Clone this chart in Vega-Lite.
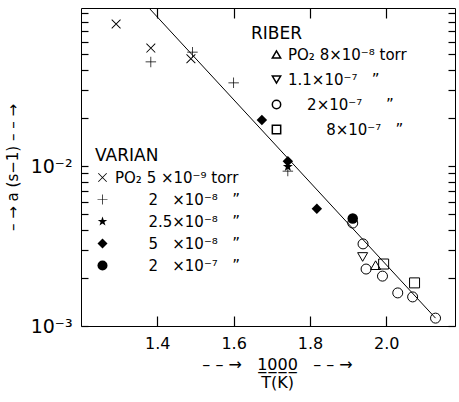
{
  "$schema": "https://vega.github.io/schema/vega-lite/v6.json",
  "autosize": "none",
  "width": 374,
  "height": 318,
  "padding": {"left": 81, "top": 8, "right": 4, "bottom": 76},
  "background": "white",
  "config": {
    "view": {"stroke": "black", "strokeWidth": 1},
    "font": "DejaVu Sans",
    "axis": {"grid": false, "domain": false, "tickColor": "#000000", "tickWidth": 1.2, "tickOpacity": 1, "labelColor": "black", "titleColor": "black", "labelFont": "DejaVu Sans", "titleFont": "DejaVu Sans", "titleFontWeight": "normal", "zindex": 2},
    "legend": {"titleFont": "DejaVu Sans", "labelFont": "DejaVu Sans", "titleFontWeight": "normal", "titleColor": "black", "labelColor": "black", "labelLimit": 300}
  },
  "datasets": {
    "fit": [
      {"inverse_T": 1.3806, "a": 0.0958},
      {"inverse_T": 2.129, "a": 0.00112}
    ],
    "varian": [
      {"inverse_T": 1.292, "a": 0.0772, "series": "PO₂ 5 ×10⁻⁹ torr"},
      {"inverse_T": 1.383, "a": 0.0546, "series": "PO₂ 5 ×10⁻⁹ torr"},
      {"inverse_T": 1.488, "a": 0.0468, "series": "PO₂ 5 ×10⁻⁹ torr"},
      {"inverse_T": 1.383, "a": 0.0447, "series": "\u200B\u2007\u2007\u2007\u00A02\u2007 ×10⁻⁸\u2007 ”"},
      {"inverse_T": 1.492, "a": 0.0515, "series": "\u200B\u2007\u2007\u2007\u00A02\u2007 ×10⁻⁸\u2007 ”"},
      {"inverse_T": 1.600, "a": 0.0331, "series": "\u200B\u2007\u2007\u2007\u00A02\u2007 ×10⁻⁸\u2007 ”"},
      {"inverse_T": 1.742, "a": 0.0093, "series": "\u200B\u2007\u2007\u2007\u00A02\u2007 ×10⁻⁸\u2007 ”"},
      {"inverse_T": 1.742, "a": 0.0099, "series": "\u200B\u2007\u2007\u2007\u00A02.5×10⁻⁸\u2007 ”"},
      {"inverse_T": 1.674, "a": 0.0194, "series": "\u200B\u2007\u2007\u2007\u00A05\u2007 ×10⁻⁸\u2007 ”"},
      {"inverse_T": 1.742, "a": 0.0107, "series": "\u200B\u2007\u2007\u2007\u00A05\u2007 ×10⁻⁸\u2007 ”"},
      {"inverse_T": 1.818, "a": 0.0054, "series": "\u200B\u2007\u2007\u2007\u00A05\u2007 ×10⁻⁸\u2007 ”"},
      {"inverse_T": 1.912, "a": 0.0047, "series": "\u200B\u2007\u2007\u2007\u00A02\u2007 ×10⁻⁷\u2007 ”"}
    ],
    "riber": [
      {"inverse_T": 1.972, "a": 0.0024, "series": "PO₂ 8×10⁻⁸ torr"},
      {"inverse_T": 1.938, "a": 0.0027, "series": "1.1×10⁻⁷\u2007 ”"},
      {"inverse_T": 1.912, "a": 0.0044, "series": "\u200B\u2007\u20072×10⁻⁷\u2007\u2007 ”"},
      {"inverse_T": 1.939, "a": 0.00326, "series": "\u200B\u2007\u20072×10⁻⁷\u2007\u2007 ”"},
      {"inverse_T": 1.947, "a": 0.00227, "series": "\u200B\u2007\u20072×10⁻⁷\u2007\u2007 ”"},
      {"inverse_T": 1.990, "a": 0.00205, "series": "\u200B\u2007\u20072×10⁻⁷\u2007\u2007 ”"},
      {"inverse_T": 2.030, "a": 0.00161, "series": "\u200B\u2007\u20072×10⁻⁷\u2007\u2007 ”"},
      {"inverse_T": 2.069, "a": 0.00152, "series": "\u200B\u2007\u20072×10⁻⁷\u2007\u2007 ”"},
      {"inverse_T": 2.129, "a": 0.00112, "series": "\u200B\u2007\u20072×10⁻⁷\u2007\u2007 ”"},
      {"inverse_T": 1.993, "a": 0.00244, "series": "\u200B\u2007\u2007\u2007\u20078×10⁻⁷\u2007 ”"},
      {"inverse_T": 2.074, "a": 0.00186, "series": "\u200B\u2007\u2007\u2007\u20078×10⁻⁷\u2007 ”"}
    ]
  },
  "layer": [
    {
      "data": {"name": "fit"},
      "mark": {"type": "line", "color": "black", "strokeWidth": 1},
      "encoding": {
        "x": {"field": "inverse_T", "type": "quantitative",
          "scale": {"domain": [1.2, 2.18], "nice": false, "zero": false},
          "axis": {"orient": "bottom", "values": [1.4, 1.6, 1.8, 2.0], "format": ".1f", "offset": -10, "tickSize": 10, "labelPadding": 9, "labelFontSize": 16,
            "title": ["– – →\u00A0\u00A0\u00A01̲0̲0̲0̲\u00A0\u00A0\u00A0– – →", "T(K)"], "titleFontSize": 16, "titlePadding": 5, "titleLineHeight": 18, "titleX": 196}},
        "y": {"field": "a", "type": "quantitative",
          "scale": {"type": "log", "domain": [0.001, 0.0972], "nice": false},
          "axis": {"orient": "left",
            "values": [0.001, 0.002, 0.003, 0.004, 0.005, 0.006, 0.007, 0.008, 0.009, 0.01, 0.02, 0.03, 0.04, 0.05, 0.06, 0.07, 0.08, 0.09],
            "labelExpr": "datum.value == 0.01 ? '10⁻²' : (datum.value == 0.001 ? '10⁻³' : '')",
            "offset": -7, "tickSize": 7,
            "labelPadding": 9, "labelFontSize": 19,
            "title": "– →  a (s−1)  – – →", "titleFontSize": 15, "titlePadding": 10}}
      }
    },
    {
      "data": {"name": "varian"},
      "mark": {"type": "point", "filled": true, "color": "black", "opacity": 1, "strokeWidth": 0},
      "encoding": {
        "x": {"field": "inverse_T", "type": "quantitative",
          "scale": {"domain": [1.2, 2.18], "nice": false, "zero": false},
          "axis": {"orient": "top", "values": [1.4, 1.6, 1.8, 2.0], "offset": -10, "tickSize": 10, "labels": false, "title": null}},
        "y": {"field": "a", "type": "quantitative",
          "scale": {"type": "log", "domain": [0.001, 0.0972], "nice": false},
          "axis": {"orient": "right",
            "values": [0.001, 0.002, 0.003, 0.004, 0.005, 0.006, 0.007, 0.008, 0.009, 0.01, 0.02, 0.03, 0.04, 0.05, 0.06, 0.07, 0.08, 0.09],
            "offset": -7, "tickSize": 7,
            "labels": false, "title": null}},
        "shape": {"field": "series", "type": "nominal",
          "scale": {
            "domain": ["PO₂ 5 ×10⁻⁹ torr", "\u200B\u2007\u2007\u2007\u00A02\u2007 ×10⁻⁸\u2007 ”", "\u200B\u2007\u2007\u2007\u00A02.5×10⁻⁸\u2007 ”", "\u200B\u2007\u2007\u2007\u00A05\u2007 ×10⁻⁸\u2007 ”", "\u200B\u2007\u2007\u2007\u00A02\u2007 ×10⁻⁷\u2007 ”"],
            "range": [
              "M-0.9,-0.78L-0.78,-0.9L0.9,0.78L0.78,0.9Z M-0.9,0.78L0.78,-0.9L0.9,-0.78L-0.78,0.9Z",
              "M-0.07,-1H0.07V1H-0.07Z M-1,-0.07H1V0.07H-1Z",
              "M0,-1L0.235,-0.324L0.951,-0.309L0.38,0.124L0.588,0.809L0,0.4L-0.588,0.809L-0.38,0.124L-0.951,-0.309L-0.235,-0.324Z",
              "diamond",
              "circle"
            ]},
          "legend": {"title": "VARIAN", "orient": "none", "legendX": 14, "legendY": 140, "titleFontSize": 17, "labelFontSize": 15, "symbolSize": 100, "rowPadding": 5, "labelOffset": 5, "titlePadding": 5}},
        "size": {"value": 110}
      }
    },
    {
      "data": {"name": "riber"},
      "mark": {"type": "point", "filled": false, "color": "black", "opacity": 1, "strokeWidth": 1, "size": 100},
      "encoding": {
        "x": {"field": "inverse_T", "type": "quantitative", "scale": {"domain": [1.2, 2.18], "nice": false, "zero": false}, "axis": null},
        "y": {"field": "a", "type": "quantitative", "scale": {"type": "log", "domain": [0.001, 0.0972], "nice": false}, "axis": null},
        "shape": {"field": "series", "type": "nominal",
          "scale": {
            "domain": ["PO₂ 8×10⁻⁸ torr", "1.1×10⁻⁷\u2007 ”", "\u200B\u2007\u20072×10⁻⁷\u2007\u2007 ”", "\u200B\u2007\u2007\u2007\u20078×10⁻⁷\u2007 ”"],
            "range": ["triangle-up", "triangle-down", "circle", "square"]},
          "legend": {"title": "RIBER", "orient": "none", "legendX": 170, "legendY": 18, "titleFontSize": 17, "labelFontSize": 15, "symbolSize": 70, "symbolOffset": 18, "rowPadding": 9, "labelOffset": 4, "titlePadding": 4}}
      }
    }
  ],
  "resolve": {
    "scale": {"shape": "independent"},
    "legend": {"shape": "independent"},
    "axis": {"x": "independent", "y": "independent"}
  }
}
